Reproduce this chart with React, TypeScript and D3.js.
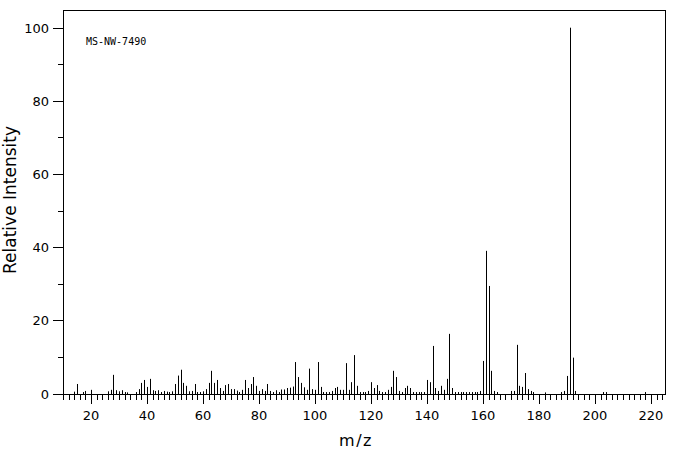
import React from "react";
import * as d3 from "d3";

const mzValues = [
  14, 15, 17, 18, 20, 26, 27, 28, 29, 30, 31, 32, 33, 36, 37, 38, 39, 40, 41, 42, 43, 44, 45, 46, 47, 48, 49, 50,
  51, 52, 53, 54, 55, 56, 57, 58, 59, 60, 61, 62, 63, 64, 65, 66, 67, 68, 69, 70, 71, 72, 73, 74, 75, 76, 77, 78,
  79, 80, 81, 82, 83, 84, 85, 86, 87, 88, 89, 90, 91, 92, 93, 94, 95, 96, 97, 98, 99, 100, 101, 102, 103, 104,
  105, 106, 107, 108, 109, 110, 111, 112, 113, 114, 115, 116, 117, 118, 119, 120, 121, 122, 123, 124, 125, 126,
  127, 128, 129, 130, 131, 132, 133, 134, 135, 136, 137, 138, 139, 140, 141, 142, 143, 144, 145, 146, 147, 148,
  149, 150, 151, 152, 153, 154, 155, 156, 157, 158, 159, 160, 161, 162, 163, 164, 165, 170, 171, 172, 173, 174,
  175, 176, 177, 178, 182, 188, 189, 190, 191, 192, 193, 203, 204, 218,
];

const intensities = [
  0.5, 2.6, 0.4, 0.7, 1.0, 0.6, 1.0, 5.1, 0.9, 0.6, 0.9, 0.4, 0.3, 0.4, 1.2, 2.9, 3.7, 1.8, 4.0, 0.9, 0.7, 0.9, 0.4, 0.7, 0.5, 0.4, 0.6, 2.6,
  4.9, 6.5, 2.9, 2.1, 0.6, 0.7, 2.6, 0.4, 0.4, 0.6, 1.2, 2.9, 6.2, 2.9, 3.7, 1.5, 0.7, 2.3, 2.6, 1.2, 1.2, 0.8, 0.4, 1.0, 3.7, 1.5, 2.6, 4.5,
  2.1, 0.7, 1.2, 0.7, 2.6, 0.7, 0.4, 0.9, 0.4, 1.1, 1.1, 1.5, 1.6, 1.9, 8.6, 4.5, 2.9, 1.7, 1.0, 6.8, 1.2, 1.0, 8.6, 1.8, 0.4, 0.4,
  0.4, 0.7, 1.5, 1.8, 1.0, 1.0, 8.3, 1.0, 3.1, 10.5, 2.1, 0.4, 0.4, 0.4, 0.7, 3.1, 1.5, 2.3, 0.7, 0.4, 0.4, 1.0,
  1.8, 6.2, 4.5, 0.7, 0.4, 1.5, 2.1, 1.5, 0.4, 0.4, 0.4, 0.4, 0.4, 3.7, 3.1, 13.0, 1.5, 0.7, 2.1, 1.0, 4.0, 16.3,
  1.5, 0.4, 0.4, 0.4, 0.4, 0.4, 0.4, 0.4, 0.4, 0.4, 0.7, 8.9, 39.0, 29.4, 6.2, 0.7, 0.4, 0.7, 0.7, 13.3, 2.1, 1.8,
  5.6, 1.2, 0.7, 0.4, 0.3, 0.4, 0.7, 4.8, 100, 9.8, 0.7, 0.4, 0.4, 0.4,
];

const xTickLabels = [20, 40, 60, 80, 100, 120, 140, 160, 180, 200, 220];
const yTickLabels = [0, 20, 40, 60, 80, 100];
const titleText = "MS-NW-7490";
const xAxisTitle = "m/z";
const yAxisTitle = "Relative Intensity";

export default function App() {
  const W = 676;
  const H = 455;
  const left = 63;
  const right = 665;
  const top = 10;
  const bottom = 394;

  const x = d3.scaleLinear().domain([10, 225]).range([left, right]);
  const y = d3.scaleLinear().domain([0, 100]).range([393.5, 27.7]);

  const xMinor = d3.range(10, 225, 2);
  const yMinor = d3.range(0, 101, 10);
  const font = "'DejaVu Sans', sans-serif";

  return (
    <svg
      width={W}
      height={H}
      style={{ position: "absolute", left: 0, top: 0, background: "#fff" }}
    >
      <rect x={0} y={0} width={W} height={H} fill="#fff" />
      {mzValues.map((m, i) => {
        const px = Math.round(x(m)) + 0.5;
        return (
          <line
            key={"p" + m}
            x1={px}
            x2={px}
            y1={bottom}
            y2={y(intensities[i])}
            stroke="#000"
            strokeWidth={1}
          />
        );
      })}
      <rect
        x={left + 0.5}
        y={top + 0.5}
        width={right - left}
        height={bottom - top}
        fill="none"
        stroke="#000"
        strokeWidth={1}
      />
      {xMinor.map((m) => {
        const px = Math.round(x(m)) + 0.5;
        const major = m % 20 === 0;
        return (
          <line
            key={"xt" + m}
            x1={px}
            x2={px}
            y1={bottom}
            y2={bottom + (major ? 10 : 6)}
            stroke="#000"
          />
        );
      })}
      {xTickLabels.map((m) => (
        <text
          key={"xl" + m}
          x={x(m)}
          y={419.5}
          textAnchor="middle"
          fontFamily={font}
          fontSize={13}
          fill="#000"
        >
          {m}
        </text>
      ))}
      {yMinor.map((v) => {
        const py = Math.round(y(v)) + 0.5;
        const major = v % 20 === 0;
        return (
          <line
            key={"yt" + v}
            x1={left - (major ? 10 : 5)}
            x2={left}
            y1={py}
            y2={py}
            stroke="#000"
          />
        );
      })}
      {yTickLabels.map((v) => (
        <text
          key={"yl" + v}
          x={49}
          y={y(v) + 5}
          textAnchor="end"
          fontFamily={font}
          fontSize={13}
          fill="#000"
        >
          {v}
        </text>
      ))}
      <text
        x={86}
        y={45}
        fontFamily="'DejaVu Sans Mono', monospace"
        fontSize={10}
        fill="#000"
      >
        {titleText}
      </text>
      <text
        x={356}
        y={446}
        textAnchor="middle"
        fontFamily={font}
        fontSize={16}
        letterSpacing={1.5}
        fill="#000"
      >
        {xAxisTitle}
      </text>
      <text
        transform="translate(16,200) rotate(-90)"
        textAnchor="middle"
        fontFamily={font}
        fontSize={17}
        fill="#000"
      >
        {yAxisTitle}
      </text>
    </svg>
  );
}
